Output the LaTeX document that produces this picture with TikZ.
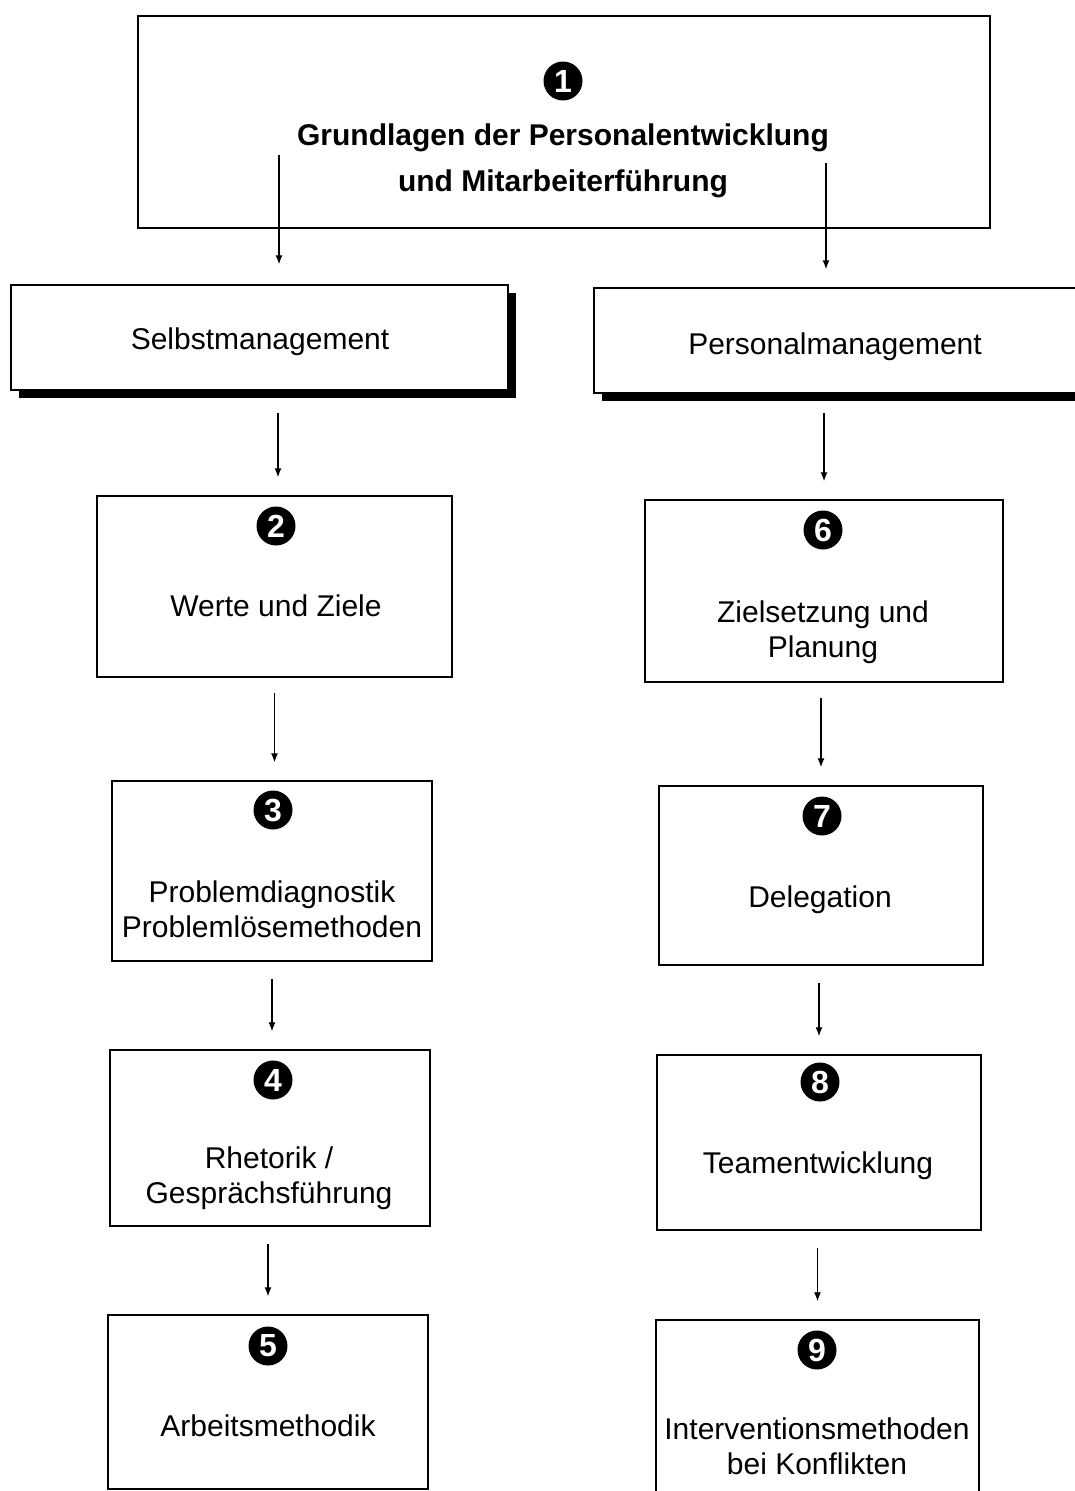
\documentclass[tikz,border=0pt]{standalone}
\usepackage{fontspec}
\setmainfont{Liberation Sans}
\usetikzlibrary{arrows.meta,shadows}

\begin{document}
\begin{tikzpicture}[x=1pt,y=-1pt,
  box/.style={draw=black, line width=1.5pt, fill=white, rectangle, inner sep=0pt},
  shadowbox/.style={box, drop shadow={shadow xshift=8pt, shadow yshift=-8pt, fill=black, opacity=1}},
  % anchored so that the node centre sits at the middle of the capitals of the last line
  lbl/.style={font=\fontsize{30}{35}\selectfont, align=center, inner sep=0pt, text height=21.5pt, text depth=0pt},
  title/.style={font=\fontsize{30}{46}\selectfont\bfseries, align=center, inner sep=0pt, text height=21.5pt, text depth=0pt},
  num/.style={circle, fill=black, text=white, inner sep=0pt, minimum size=39pt,
    font=\fontsize{32}{32}\selectfont\bfseries},
  arr/.style={-{Latex[length=9pt,width=7pt]}, line width=1.2pt, shorten <=17pt, shorten >=18pt},
]
\useasboundingbox (0,0) rectangle (1075,1491);
\clip (0,0) rectangle (1075,1491);

% top box
\node[box, minimum width=852pt, minimum height=212pt] (top) at (564,122) {};
\node[num] (c1) at (563,81) {1};
\node[title] (t1) at (563,181) {Grundlagen der Personalentwicklung\\und Mitarbeiterführung};

% second row
\node[shadowbox, minimum width=497pt, minimum height=105pt] (s) at (259.5,337.5) {};
\node[lbl] (ts) at (260,339) {Selbstmanagement};
\node[shadowbox, minimum width=482pt, minimum height=105pt] (p) at (835,340.5) {};
\node[lbl] (tp) at (835,344) {Personalmanagement};

% left column
\node[box, minimum width=355pt, minimum height=181pt] (b2) at (274.5,586.5) {};
\node[num] (c2) at (276,526) {2};
\node[lbl] (t2) at (276,606) {Werte und Ziele};

\node[box, minimum width=320pt, minimum height=180pt] (b3) at (272,871) {};
\node[num] (c3) at (273,810) {3};
\node[lbl] (t3) at (272,927) {Problemdiagnostik\\Problemlösemethoden};

\node[box, minimum width=320pt, minimum height=176pt] (b4) at (270,1138) {};
\node[num] (c4) at (273,1080) {4};
\node[lbl] (t4) at (269,1193) {Rhetorik /\\Gesprächsführung};

\node[box, minimum width=320pt, minimum height=174pt] (b5) at (268,1402) {};
\node[num] (c5) at (268,1346) {5};
\node[lbl] (t5) at (268,1426) {Arbeitsmethodik};

% right column
\node[box, minimum width=358pt, minimum height=182pt] (b6) at (824,591) {};
\node[num] (c6) at (823,530) {6};
\node[lbl] (t6) at (823,647) {Zielsetzung und\\Planung};

\node[box, minimum width=324pt, minimum height=179pt] (b7) at (821,875.5) {};
\node[num] (c7) at (822,816) {7};
\node[lbl] (t7) at (820,897) {Delegation};

\node[box, minimum width=324pt, minimum height=175pt] (b8) at (819,1142.5) {};
\node[num] (c8) at (820,1082) {8};
\node[lbl] (t8) at (818,1163) {Teamentwicklung};

\node[box, minimum width=323pt, minimum height=180pt] (b9) at (817.5,1410) {};
\node[num] (c9) at (817,1350) {9};
\node[lbl] (t9) at (817,1464) {Interventionsmethoden\\bei Konflikten};

% connectors
\coordinate (tl) at (279,155);
\coordinate (tr) at (826,163);
\draw[arr, shorten <=0pt, shorten >=20pt] (tl) -- (tl |- s.north);
\draw[arr, shorten <=0pt, shorten >=18pt] (tr) -- (tr |- p.north);

\draw[arr, shorten <=22pt] ([xshift=3.5pt]b2.north |- s.south) -- ([xshift=3.5pt]b2.north);
\draw[arr, shorten <=19pt] (p.south -| b6.north) -- (b6.north);
\draw[arr, shorten <=15pt] (b2.south) -- (b2.south |- b3.north);
\draw[arr, shorten <=15pt] (b6.south -| b7.north) -- (b7.north);
\draw[arr] (b3.south) -- (b3.south |- b4.north);
\draw[arr] (b7.south -| b8.north) -- (b8.north);
\draw[arr] (b4.south -| b5.north) -- (b5.north);
\draw[arr] (b8.south -| b9.north) -- (b9.north);
\end{tikzpicture}
\end{document}
